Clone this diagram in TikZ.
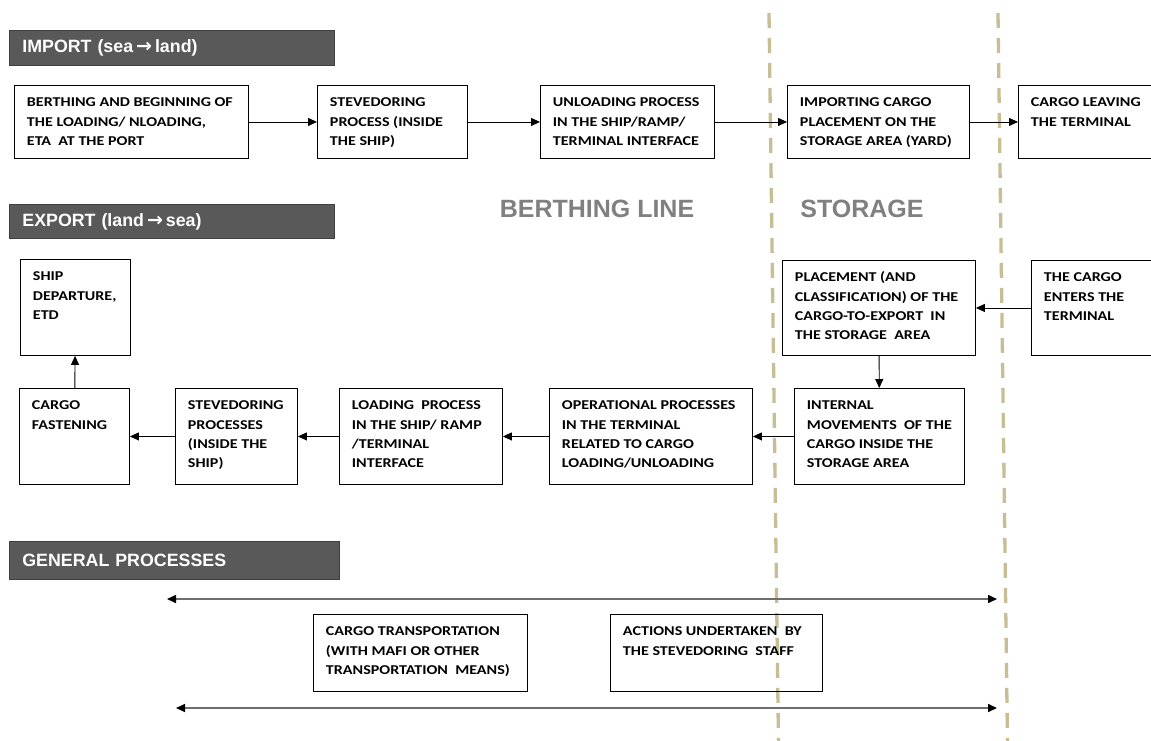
\documentclass[tikz,border=0pt]{standalone}
\usepackage{fontspec}
\usetikzlibrary{arrows.meta}
\newfontfamily\boxfont[FakeStretch=1.19]{Carlito}
\newfontfamily\headfont{Liberation Sans}
\newfontfamily\arrowfont{DejaVu Sans}
\definecolor{hdrfill}{HTML}{595959}
\definecolor{hdrline}{HTML}{3F3F3F}
\definecolor{zoneline}{HTML}{C8BE96}
\definecolor{zonetext}{HTML}{808080}
\definecolor{spanline}{HTML}{6E6E6E}

% process box contents: width, height, lines of text (top-left aligned)
\newcommand\ptxt[3]{\parbox[c][#2pt][t]{#1pt}{\vspace*{8pt}\raggedright\leftskip=12.5pt\relax\strut #3\par}}
% heavy arrow used in the header captions
\newcommand\harr{\,{\arrowfont\bfseries\fontsize{19}{20}\selectfont →}\,}

\tikzset{
  proc/.style={draw=black, line width=0.9pt, inner sep=0pt, anchor=north west,
    font=\boxfont\bfseries\fontsize{13.5}{19.3}\selectfont},
  hdr/.style={draw=hdrline, fill=hdrfill, line width=0.8pt, anchor=north west,
    inner xsep=13pt, inner ysep=0pt, align=left, text=white,
    font=\headfont\bfseries\fontsize{17.8}{20}\selectfont},
  flow/.style={-{Triangle[length=9pt,width=8pt]}, line width=0.9pt},
  span/.style={{Triangle[length=9pt,width=8pt,color=black]}-{Triangle[length=9pt,width=8pt,color=black]},
    line width=1.6pt, draw=spanline},
  zone/.style={draw=zoneline, line width=3.3pt, dash pattern=on 15pt off 10pt},
  zonelbl/.style={text=zonetext, inner sep=0pt, font=\headfont\bfseries\fontsize{25}{30}\selectfont}
}

\begin{document}
\begin{tikzpicture}[x=1pt,y=-1pt]
\clip (0,0) rectangle (1151,740);
\fill[white] (0,0) rectangle (1151,740);

% zone boundaries
\draw[zone] (769,13) -- (778.5,745);
\draw[zone] (998,13) -- (1007.5,745);

% section headers
\node[hdr, minimum width=325pt, minimum height=35pt, text width=299pt] (h1) at (9,30) {IMPORT (sea\harr land)};
\node[hdr, minimum width=325pt, minimum height=34pt, text width=299pt] (h2) at (9,204) {EXPORT (land\harr sea)};
\node[hdr, minimum width=330pt, minimum height=38pt, text width=304pt] (h3) at (9,541) {GENERAL PROCESSES};

% zone labels
\node[zonelbl] (zb) at (597,209) {BERTHING LINE};
\node[zonelbl] (zs) at (862,209) {STORAGE};

% import flow
\node[proc] (b1) at (14,85) {\ptxt{234}{73}{BERTHING AND BEGINNING OF\\THE LOADING/ NLOADING,\\ETA\ \ AT THE PORT}};
\node[proc] (b2) at (317,85) {\ptxt{150}{73}{STEVEDORING\\PROCESS (INSIDE\\THE SHIP)}};
\node[proc] (b3) at (540,85) {\ptxt{174}{73}{UNLOADING PROCESS\\IN THE SHIP/RAMP/\\TERMINAL INTERFACE}};
\node[proc] (b4) at (787,85) {\ptxt{182}{73}{IMPORTING CARGO\\PLACEMENT ON THE\\STORAGE AREA (YARD)}};
\node[proc] (b5) at (1018,85) {\ptxt{150}{73}{CARGO LEAVING\\THE TERMINAL}};

\draw[flow] (b1) -- (b2);
\draw[flow] (b2) -- (b3);
\draw[flow] (b3) -- (b4);
\draw[flow] (b4) -- (b5);

% export flow
\node[proc] (sd) at (20,259) {\ptxt{110}{96}{SHIP\\DEPARTURE,\\ETD}};
\node[proc] (pl) at (782,260) {\ptxt{193}{95}{PLACEMENT (AND\\CLASSIFICATION) OF THE\\CARGO-TO-EXPORT\ \ IN\\THE STORAGE\ \ AREA}};
\node[proc] (en) at (1031,260) {\ptxt{140}{95}{THE CARGO\\ENTERS THE\\TERMINAL}};
\node[proc] (cf) at (19,388) {\ptxt{110}{96}{CARGO\\FASTENING}};
\node[proc] (sp) at (175,388) {\ptxt{122}{96}{STEVEDORING\\PROCESSES\\(INSIDE THE\\SHIP)}};
\node[proc] (ld) at (339,388) {\ptxt{163}{96}{LOADING\ \ PROCESS\\IN THE SHIP/ RAMP\\/TERMINAL\\INTERFACE}};
\node[proc] (op) at (549,388) {\ptxt{203}{96}{OPERATIONAL PROCESSES\\IN THE TERMINAL\\RELATED TO CARGO\\LOADING/UNLOADING}};
\node[proc] (im) at (794,388) {\ptxt{170}{96}{INTERNAL\\MOVEMENTS\ \ OF THE\\CARGO INSIDE THE\\STORAGE AREA}};

\draw[flow] (en) -- (pl);
\draw[flow] (pl) -- (im);
\draw[flow] (im) -- (op);
\draw[flow] (op) -- (ld);
\draw[flow] (ld) -- (sp);
\draw[flow] (sp) -- (cf);
\draw[flow] (cf) -- (sd);

% general processes
\coordinate (t1) at (167,599);
\coordinate (t2) at (997,599);
\coordinate (u1) at (176,708);
\coordinate (u2) at (997,708);
\draw[span] (t1) -- (t2);
\draw[span] (u1) -- (u2);

\node[proc] (ct) at (313,614) {\ptxt{214}{77}{CARGO TRANSPORTATION\\(WITH MAFI OR OTHER\\TRANSPORTATION\ \ MEANS)}};
\node[proc] (au) at (610,614) {\ptxt{212}{77}{ACTIONS UNDERTAKEN\ \ BY\\THE STEVEDORING\ \ STAFF}};
\end{tikzpicture}
\end{document}
